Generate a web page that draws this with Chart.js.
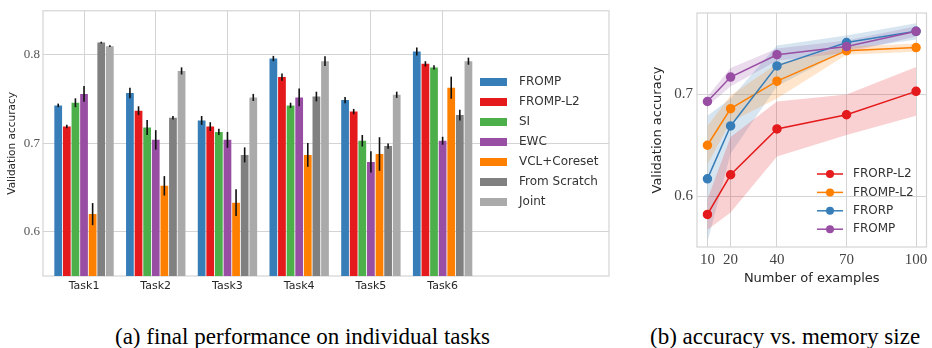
<!DOCTYPE html>
<html>
<head>
<meta charset="utf-8">
<script src="https://cdn.jsdelivr.net/npm/chart.js@4.4.0/dist/chart.umd.min.js"></script>
<style>
  body { margin: 0; background: #fff; }
  #wrap { position: relative; width: 932px; height: 348px; overflow: hidden; }
  #left { position: absolute; left: 0; top: 0; }
  #right { position: absolute; left: 630px; top: 0; }
  .cap { position: absolute; top: 325px; font-family: "Liberation Serif", serif; font-size: 23px; line-height: 23px; color: #000; white-space: nowrap; }
</style>
</head>
<body>
<div id="wrap">
  <canvas id="left" width="620" height="300"></canvas>
  <canvas id="right" width="302" height="300"></canvas>
  <div class="cap" style="left:115px">(a) final performance on individual tasks</div>
  <div class="cap" style="left:650px">(b) accuracy vs. memory size</div>
</div>
<script>
// ---- (a) per-task accuracy ----
const tasks = ["Task1", "Task2", "Task3", "Task4", "Task5", "Task6"];
const methods = ["FROMP", "FROMP-L2", "SI", "EWC", "VCL+Coreset", "From Scratch", "Joint"];
const methodColors = ["#377eb8", "#e41a1c", "#4daf4a", "#984ea3", "#ff7f00", "#808080", "#aaaaaa"];

const fromp    = [0.743, 0.757, 0.726, 0.796, 0.749, 0.804];
const frompL2  = [0.719, 0.737, 0.719, 0.775, 0.736, 0.790];
const si       = [0.746, 0.718, 0.713, 0.743, 0.703, 0.786];
const ewc      = [0.756, 0.704, 0.704, 0.752, 0.679, 0.703];
const vcl      = [0.620, 0.652, 0.633, 0.687, 0.688, 0.763];
const scratch  = [0.814, 0.729, 0.687, 0.753, 0.697, 0.732];
const joint    = [0.810, 0.782, 0.752, 0.793, 0.755, 0.793];

const frompErr   = [0.002, 0.006, 0.005, 0.003, 0.0035, 0.0045];
const frompL2Err = [0.002, 0.005, 0.005, 0.004, 0.003, 0.003];
const siErr      = [0.005, 0.0085, 0.0035, 0.003, 0.0065, 0.0025];
const ewcErr     = [0.009, 0.011, 0.009, 0.010, 0.012, 0.0045];
const vclErr     = [0.0125, 0.011, 0.015, 0.0135, 0.019, 0.0125];
const scratchErr = [0.001, 0.002, 0.0085, 0.0055, 0.003, 0.006];
const jointErr   = [0.001, 0.004, 0.004, 0.0055, 0.0035, 0.004];

const accTicks = [0.6, 0.7, 0.8];

// ---- (b) accuracy vs memory size ----
const memSizes = [10, 20, 40, 70, 100];
const lineNames = ["FRORP-L2", "FROMP-L2", "FRORP", "FROMP"];
const lineColors = ["#e41a1c", "#ff7f00", "#377eb8", "#984ea3"];
const frorpL2Acc = [0.582, 0.621, 0.666, 0.680, 0.703];
const frompL2Acc = [0.650, 0.686, 0.713, 0.743, 0.746];
const frorpAcc   = [0.617, 0.669, 0.728, 0.751, 0.762];
const frompAcc   = [0.693, 0.717, 0.739, 0.747, 0.762];
const frorpL2Std = [0.015, 0.037, 0.027, 0.020, 0.024];
const frompL2Std = [0.019, 0.013, 0.017, 0.004, 0.004];
const frorpStd   = [0.062, 0.027, 0.020, 0.007, 0.008];
const frompStd   = [0.005, 0.009, 0.006, 0.006, 0.005];
const memYTicks = [0.6, 0.7];

Chart.defaults.font.family = "DejaVu Sans";
Chart.defaults.color = "#262626";

const gridColor = "#d4d4d4";

// frame around the plot area
const framePlugin = {
  id: "frame",
  beforeDatasetsDraw(chart) {
    const a = chart.chartArea, ctx = chart.ctx;
    ctx.save();
    ctx.strokeStyle = gridColor;
    ctx.lineWidth = 1.2;
    ctx.strokeRect(a.left, a.top, a.right - a.left, a.bottom - a.top);
    ctx.restore();
  }
};

// black error bars on top of each bar
const errorBarPlugin = {
  id: "errorBars",
  afterDatasetsDraw(chart) {
    const ctx = chart.ctx, y = chart.scales.y;
    ctx.save();
    ctx.strokeStyle = "#111";
    ctx.lineWidth = 1.6;
    chart.data.datasets.forEach((ds, di) => {
      const meta = chart.getDatasetMeta(di);
      meta.data.forEach((bar, i) => {
        const v = ds.data[i].y, e = ds.errors[i];
        ctx.beginPath();
        ctx.moveTo(bar.x, y.getPixelForValue(v + e));
        ctx.lineTo(bar.x, y.getPixelForValue(v - e));
        ctx.stroke();
      });
    });
    ctx.restore();
  }
};

// legend drawn inside the plot, right of the bars
const barLegendPlugin = {
  id: "barLegend",
  afterDraw(chart) {
    const ctx = chart.ctx;
    ctx.save();
    ctx.font = "12px 'DejaVu Sans'";
    ctx.textBaseline = "middle";
    chart.data.datasets.forEach((ds, i) => {
      const cy = 82 + i * 20;
      ctx.fillStyle = ds.backgroundColor;
      ctx.fillRect(480, cy - 4, 27, 8);
      ctx.fillStyle = "#333";
      ctx.fillText(ds.label, 519, cy);
    });
    ctx.restore();
  }
};

const seriesVals = [fromp, frompL2, si, ewc, vcl, scratch, joint];
const seriesErrs = [frompErr, frompL2Err, siErr, ewcErr, vclErr, scratchErr, jointErr];

new Chart(document.getElementById("left"), {
  type: "bar",
  data: {
    datasets: methods.map((m, k) => ({
      label: m,
      data: seriesVals[k].map((v, i) => ({ x: i, y: v })),
      errors: seriesErrs[k],
      backgroundColor: methodColors[k],
      borderWidth: 0,
      categoryPercentage: 0.84,
      barPercentage: 0.9
    }))
  },
  options: {
    responsive: false,
    animation: false,
    layout: { padding: { top: 6, right: 11, left: 0, bottom: 0 } },
    plugins: { legend: { display: false }, tooltip: { enabled: false } },
    scales: {
      x: {
        type: "linear",
        min: -0.572,
        max: 7.32,
        offset: false,
        grid: { color: gridColor, drawTicks: false, offset: false },
        border: { display: false },
        afterBuildTicks: (s) => { s.ticks = tasks.map((t, i) => ({ value: i })); },
        afterFit: (s) => { s.height = 24; },
        ticks: { padding: 4, font: { size: 11 }, callback: (v) => tasks[v] }
      },
      y: {
        min: 0.55,
        max: 0.85,
        grid: { color: gridColor, drawTicks: false },
        border: { display: false },
        afterBuildTicks: (s) => { s.ticks = accTicks.map(v => ({ value: v })); },
        afterFit: (s) => { s.width = 43; },
        ticks: { padding: 3, font: { family: "Liberation Serif", size: 13 }, color: "#555", callback: (v) => v.toFixed(1) },
        title: { display: true, text: "Validation accuracy", font: { size: 10.5 }, padding: { top: 6, bottom: 0 } }
      }
    }
  },
  plugins: [framePlugin, errorBarPlugin, barLegendPlugin]
});

// ---- right chart ----
function hexA(hex, a) {
  const n = parseInt(hex.slice(1), 16);
  return `rgba(${n >> 16},${(n >> 8) & 255},${n & 255},${a})`;
}

const lineAcc = [frorpL2Acc, frompL2Acc, frorpAcc, frompAcc];
const lineStd = [frorpL2Std, frompL2Std, frorpStd, frompStd];
const drawOrder = [4, 3, 2, 1];

const rightSets = [];
lineNames.forEach((name, k) => {
  rightSets.push({
    label: name + " upper",
    data: memSizes.map((m, i) => ({ x: m, y: lineAcc[k][i] + lineStd[k][i] })),
    borderWidth: 0, pointRadius: 0, fill: "+1",
    backgroundColor: hexA(lineColors[k], 0.2), order: 10 + k
  });
  rightSets.push({
    label: name + " lower",
    data: memSizes.map((m, i) => ({ x: m, y: lineAcc[k][i] - lineStd[k][i] })),
    borderWidth: 0, pointRadius: 0, fill: false, order: 10 + k
  });
});
lineNames.forEach((name, k) => {
  rightSets.push({
    label: name,
    isLine: true,
    data: memSizes.map((m, i) => ({ x: m, y: lineAcc[k][i] })),
    borderColor: lineColors[k],
    backgroundColor: lineColors[k],
    pointBackgroundColor: lineColors[k],
    pointBorderColor: lineColors[k],
    pointRadius: 4,
    borderWidth: 1.5,
    fill: false,
    order: drawOrder[k]
  });
});

const lineLegendPlugin = {
  id: "lineLegend",
  afterDraw(chart) {
    const ctx = chart.ctx;
    ctx.save();
    ctx.font = "12px 'DejaVu Sans'";
    ctx.textBaseline = "middle";
    chart.data.datasets.filter(d => d.isLine).forEach((ds, i) => {
      const cy = 174 + i * 18.4;
      ctx.strokeStyle = ds.borderColor;
      ctx.lineWidth = 1.5;
      ctx.beginPath();
      ctx.moveTo(187, cy);
      ctx.lineTo(213, cy);
      ctx.stroke();
      ctx.fillStyle = ds.borderColor;
      ctx.beginPath();
      ctx.arc(200, cy, 4, 0, Math.PI * 2);
      ctx.fill();
      ctx.fillStyle = "#333";
      ctx.fillText(ds.label, 223, cy);
    });
    ctx.restore();
  }
};

new Chart(document.getElementById("right"), {
  type: "line",
  data: { datasets: rightSets },
  options: {
    responsive: false,
    animation: false,
    layout: { padding: { top: 10, right: 5, left: 0, bottom: 0 } },
    plugins: { legend: { display: false }, tooltip: { enabled: false } },
    scales: {
      x: {
        type: "linear",
        min: 5.5,
        max: 104.5,
        grid: { color: gridColor, drawTicks: false },
        border: { display: false },
        afterBuildTicks: (s) => { s.ticks = memSizes.map(v => ({ value: v })); },
        afterFit: (s) => { s.height = 53; },
        ticks: { padding: 4, font: { family: "Liberation Serif", size: 15 }, color: "#444" },
        title: { display: true, text: "Number of examples", font: { size: 13 }, padding: { top: 0, bottom: 14 } }
      },
      y: {
        min: 0.55,
        max: 0.78,
        grid: { color: gridColor, drawTicks: false },
        border: { display: false },
        afterBuildTicks: (s) => { s.ticks = memYTicks.map(v => ({ value: v })); },
        afterFit: (s) => { s.width = 67; },
        ticks: { padding: 4, font: { family: "Liberation Serif", size: 15 }, color: "#444", callback: (v) => v.toFixed(1) },
        title: { display: true, text: "Validation accuracy", font: { size: 13 }, padding: { top: 20, bottom: 0 } }
      }
    }
  },
  plugins: [framePlugin, lineLegendPlugin]
});
</script>
</body>
</html>
